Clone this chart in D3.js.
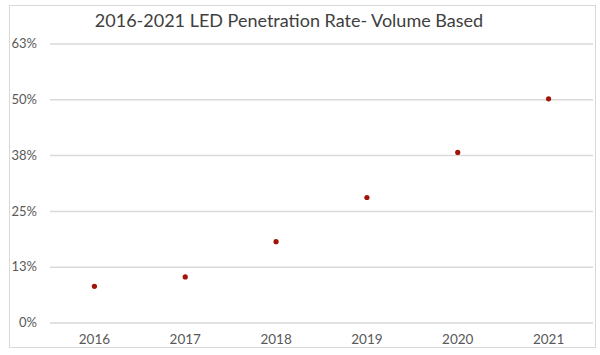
<!DOCTYPE html>
<html>
<head>
<meta charset="utf-8">
<script src="https://cdn.jsdelivr.net/npm/d3@7"></script>
<style>
  html, body { margin: 0; padding: 0; background: #fff; }
  svg { display: block; }
  text { font-family: Lato, "Open Sans", sans-serif; }
</style>
</head>
<body>
<svg id="chart" width="600" height="355"></svg>
<script>
const title = "2016-2021 LED Penetration Rate- Volume Based";
const years = ["2016", "2017", "2018", "2019", "2020", "2021"];
const penetration = [0.081, 0.102, 0.181, 0.280, 0.381, 0.501];
const tickValues = [0, 0.125, 0.25, 0.375, 0.5, 0.625];
const tickLabels = ["0%", "13%", "25%", "38%", "50%", "63%"];

const svg = d3.select("#chart");

// outer frame
svg.append("rect")
  .attr("x", 9.5).attr("y", 5.5)
  .attr("width", 586).attr("height", 342)
  .attr("fill", "#fff").attr("stroke", "#d9d9d9").attr("stroke-width", 1);

const x = d3.scaleBand().domain(years).range([49, 594]);
const y = d3.scaleLinear().domain([0, 0.625]).range([322.5, 43.5]);

// gridlines + y labels
const yAxis = d3.axisLeft(y)
  .tickValues(tickValues)
  .tickSize(-(593 - 50))
  .tickPadding(13)
  .tickFormat((d, i) => tickLabels[i]);

const gy = svg.append("g").attr("transform", "translate(50,0)").call(yAxis);
gy.select(".domain").remove();
gy.selectAll(".tick line").attr("stroke", "#d9d9d9").attr("stroke-width", 1.5);
gy.selectAll(".tick text")
  .attr("fill", "#595959")
  .style("font-size", "13px");

// x axis labels
const xAxis = d3.axisBottom(x).tickSize(0).tickPadding(12);
const gx = svg.append("g").attr("transform", "translate(0,322.5)").call(xAxis);
gx.select(".domain").remove();
gx.selectAll(".tick text")
  .attr("fill", "#595959")
  .style("font-size", "13.5px");

// points
svg.append("g").selectAll("circle")
  .data(years.map((yr, i) => ({ yr, v: penetration[i] })))
  .join("circle")
  .attr("cx", d => x(d.yr) + x.bandwidth() / 2)
  .attr("cy", d => y(d.v))
  .attr("r", 2.6)
  .attr("fill", "#a0140a");

// title
svg.append("text")
  .attr("x", 289).attr("y", 27)
  .attr("text-anchor", "middle")
  .attr("fill", "#404040")
  .style("font-size", "18px")
  .text(title);
</script>
</body>
</html>
